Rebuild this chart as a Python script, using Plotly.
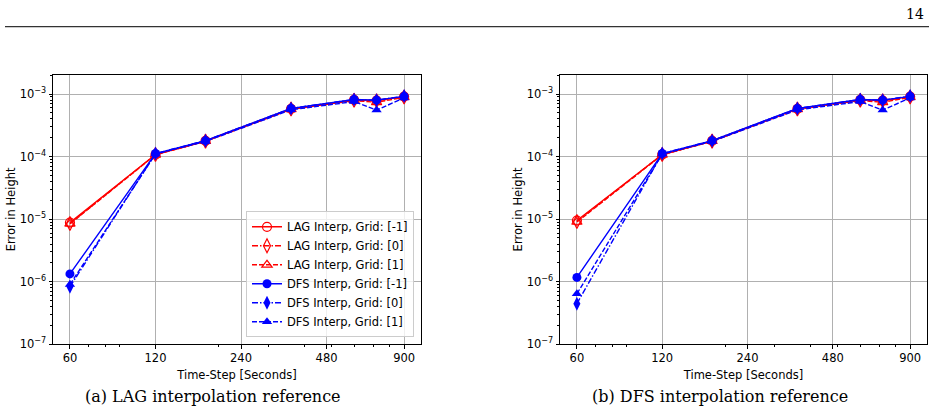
import plotly.graph_objects as go

W, H = 934, 420

# ---------------- data ----------------
time_steps = [60, 120, 180, 360, 600, 720, 900]

# (a) LAG interpolation reference
a_lag_m1 = [8.8e-6, 1.08e-4, 1.78e-4, 5.8e-4, 8.1e-4, 7.9e-4, 9.1e-4]
a_lag_0 = [8.5e-6, 1.08e-4, 1.77e-4, 5.8e-4, 8.0e-4, 7.8e-4, 9.0e-4]
a_lag_p1 = [8.4e-6, 1.07e-4, 1.76e-4, 5.7e-4, 7.9e-4, 7.4e-4, 8.9e-4]
a_dfs_m1 = [1.33e-6, 1.12e-4, 1.80e-4, 5.9e-4, 8.2e-4, 8.0e-4, 9.2e-4]
a_dfs_0 = [8.3e-7, 1.12e-4, 1.80e-4, 5.9e-4, 8.2e-4, 8.0e-4, 9.3e-4]
a_dfs_p1 = [9.0e-7, 1.10e-4, 1.75e-4, 5.6e-4, 7.6e-4, 5.55e-4, 8.7e-4]

# (b) DFS interpolation reference
b_lag_m1 = [9.5e-6, 1.08e-4, 1.78e-4, 5.8e-4, 8.1e-4, 7.9e-4, 9.1e-4]
b_lag_0 = [9.2e-6, 1.08e-4, 1.77e-4, 5.8e-4, 8.0e-4, 7.8e-4, 9.0e-4]
b_lag_p1 = [9.0e-6, 1.07e-4, 1.76e-4, 5.7e-4, 7.9e-4, 7.4e-4, 8.9e-4]
b_dfs_m1 = [1.17e-6, 1.12e-4, 1.80e-4, 5.9e-4, 8.2e-4, 8.0e-4, 9.2e-4]
b_dfs_0 = [4.45e-7, 1.12e-4, 1.80e-4, 5.9e-4, 8.2e-4, 8.0e-4, 9.3e-4]
b_dfs_p1 = [6.4e-7, 1.10e-4, 1.75e-4, 5.6e-4, 7.6e-4, 5.55e-4, 8.7e-4]

series_names = [
    "LAG Interp, Grid: [-1]",
    "LAG Interp, Grid: [0]",
    "LAG Interp, Grid: [1]",
    "DFS Interp, Grid: [-1]",
    "DFS Interp, Grid: [0]",
    "DFS Interp, Grid: [1]",
]

x_tick_vals = [60, 120, 240, 480, 900]
x_tick_text = ["60", "120", "240", "480", "900"]
x_minor_vals = [70, 80, 90, 200, 300, 400, 500, 600, 700, 800, 900]
y_tick_vals = [1e-7, 1e-6, 1e-5, 1e-4, 1e-3]
y_tick_text = ["10<sup>\u22127</sup>", "10<sup>\u22126</sup>", "10<sup>\u22125</sup>",
               "10<sup>\u22124</sup>", "10<sup>\u22123</sup>"]
y_minor_vals = [m * 10.0 ** e for e in range(-7, -2) for m in range(2, 10)]

x_title = "Time-Step [Seconds]"
y_title = "Error in Height"
captions = ["(a) LAG interpolation reference", "(b) DFS interpolation reference"]
page_number = "14"

# ---------------- styles ----------------
RED, BLUE = "#ff0000", "#0000ff"
styles = [
    dict(color=RED, dash="solid", symbol="circle-open", size=9),
    dict(color=RED, dash="6px,2px,1.5px,2px", symbol="diamond-tall-open", size=10),
    dict(color=RED, dash="5px,2px", symbol="triangle-up-open", size=9),
    dict(color=BLUE, dash="solid", symbol="circle", size=9),
    dict(color=BLUE, dash="6px,2px,1.5px,2px", symbol="diamond-tall", size=10),
    dict(color=BLUE, dash="5px,2px", symbol="triangle-up", size=9),
]

panels = [
    [a_lag_m1, a_lag_0, a_lag_p1, a_dfs_m1, a_dfs_0, a_dfs_p1],
    [b_lag_m1, b_lag_0, b_lag_p1, b_dfs_m1, b_dfs_0, b_dfs_p1],
]

fig = go.Figure()
for p, panel in enumerate(panels):
    xa = "x" if p == 0 else "x2"
    ya = "y" if p == 0 else "y2"
    for i, (vals, st, name) in enumerate(zip(panel, styles, series_names)):
        is_open = st["symbol"].endswith("open")
        fig.add_trace(go.Scatter(
            x=time_steps, y=vals, name=name, mode="lines+markers",
            xaxis=xa, yaxis=ya, showlegend=(p == 0),
            line=dict(color=st["color"], width=1.4, dash=st["dash"]),
            marker=dict(symbol=st["symbol"], size=st["size"], color=st["color"],
                        line=dict(color=st["color"], width=1.2 if is_open else 0)),
        ))

FONT = "DejaVu Sans"


def px_x(v):
    return v / W


def px_y(v):
    return 1 - v / H


axis_common = dict(
    showline=True, linecolor="black", linewidth=1, mirror=True,
    showgrid=True, gridcolor="#b0b0b0", gridwidth=1, zeroline=False,
    ticks="outside", ticklen=3.5, tickwidth=1, tickcolor="black",
    tickfont=dict(family=FONT, size=11.5, color="black"),
)

x_common = dict(axis_common, type="log",
                range=[1.7185, 3.0137],
                tickmode="array", tickvals=x_tick_vals, ticktext=x_tick_text,
                minor=dict(tickmode="array", tickvals=x_minor_vals, ticks="outside",
                           ticklen=2, tickcolor="black", showgrid=False),
                title=dict(text=x_title, font=dict(family=FONT, size=11.5, color="black"),
                           standoff=6))
y_common = dict(axis_common, type="log",
                range=[-7, -2.69],
                tickmode="array", tickvals=y_tick_vals, ticktext=y_tick_text,
                minor=dict(tickmode="array", tickvals=y_minor_vals, ticks="outside",
                           ticklen=2, tickcolor="black", showgrid=False),
                title=dict(text=y_title, font=dict(family=FONT, size=11.5, color="black"),
                           standoff=1))

ydom = [px_y(350), px_y(76)]
fig.update_layout(
    width=W, height=H,
    margin=dict(l=0, r=0, t=0, b=0),
    paper_bgcolor="white", plot_bgcolor="white",
    font=dict(family=FONT, size=11, color="black"),
    xaxis=dict(x_common, domain=[px_x(53), px_x(421)], anchor="y"),
    yaxis=dict(y_common, domain=ydom, anchor="x"),
    xaxis2=dict(x_common, domain=[px_x(560), px_x(927)], anchor="y2"),
    yaxis2=dict(y_common, domain=ydom, anchor="x2"),
    legend=dict(x=px_x(414), y=px_y(343), xanchor="right", yanchor="bottom",
                bgcolor="rgba(255,255,255,0.8)", bordercolor="#cccccc", borderwidth=1,
                font=dict(family=FONT, size=11.5, color="black"),
                itemwidth=30),
    showlegend=True,
)

# page header and captions
fig.add_shape(type="line", xref="paper", yref="paper",
              x0=px_x(5), x1=px_x(929), y0=px_y(27), y1=px_y(27),
              line=dict(color="#333333", width=1.2))
fig.add_annotation(text=page_number, xref="paper", yref="paper",
                   x=px_x(926), y=px_y(14), xanchor="right", yanchor="middle",
                   showarrow=False, font=dict(family="DejaVu Serif", size=14, color="black"))
for cap, cx in zip(captions, [213, 720]):
    fig.add_annotation(text=cap, xref="paper", yref="paper",
                       x=px_x(cx), y=px_y(403), xanchor="center", yanchor="middle",
                       showarrow=False, font=dict(family="DejaVu Serif", size=16, color="black"))

fig.write_html("out.html")
